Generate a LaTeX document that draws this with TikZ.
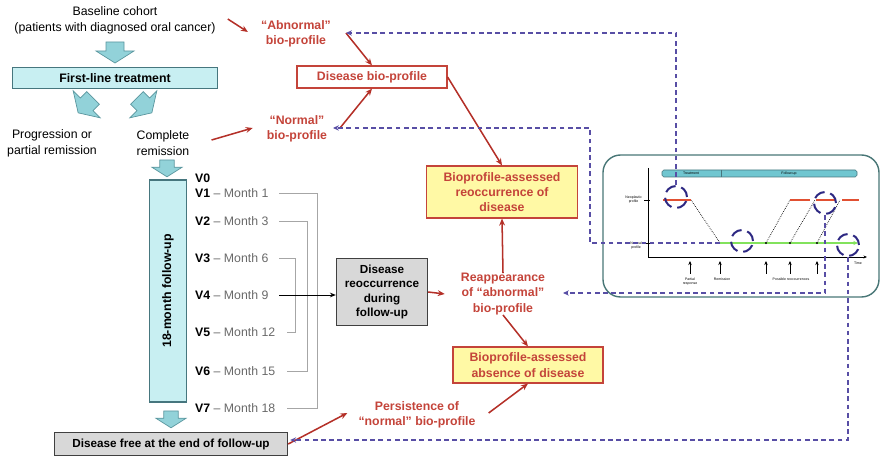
\documentclass[tikz,border=0pt]{standalone}
\usepackage{fontspec}
\setmainfont{Liberation Sans}
\usetikzlibrary{positioning}
\usetikzlibrary{arrows.meta}
\usetikzlibrary{calc}

\definecolor{bioRed}{RGB}{196,68,58}
\definecolor{arrowRed}{RGB}{180,48,40}
\definecolor{linkBlue}{RGB}{88,78,165}
\definecolor{lensBlue}{RGB}{45,40,130}
\definecolor{cyanFill}{RGB}{200,239,242}
\definecolor{cyanEdge}{RGB}{70,118,126}
\definecolor{arrowFill}{RGB}{146,210,217}
\definecolor{arrowEdge}{RGB}{90,150,158}
\definecolor{boxGray}{RGB}{216,216,216}
\definecolor{paleYellow}{RGB}{255,249,165}
\definecolor{visitGray}{RGB}{105,105,105}
\definecolor{insetEdge}{RGB}{72,118,118}
\definecolor{barFill}{RGB}{112,198,208}
\definecolor{levelGreen}{RGB}{130,226,92}
\definecolor{levelRed}{RGB}{225,80,50}

\tikzset{
  txt/.style={align=center, inner sep=0pt, font=\fontsize{10.5}{13.5}\selectfont},
  redtxt/.style={align=center, inner sep=0pt, text=bioRed,
                 font=\fontsize{10.5}{13}\selectfont\bfseries},
  visit/.style={anchor=west, inner sep=0pt, font=\fontsize{10.5}{12}\selectfont},
  cyanbox/.style={draw=cyanEdge, fill=cyanFill, line width=0.9pt, inner sep=0pt,
                  align=center, font=\fontsize{10.5}{12}\selectfont\bfseries},
  graybox/.style={draw=black!75, fill=boxGray, line width=1.2pt, inner sep=0pt,
                  align=center, font=\fontsize{10}{12.4}\selectfont\bfseries},
  yelbox/.style={draw=bioRed, fill=paleYellow, line width=1pt, inner sep=0pt,
                 align=center, text=bioRed, font=\fontsize{10.5}{13}\selectfont\bfseries},
  profbox/.style={draw=bioRed, fill=white, line width=1pt, inner sep=0pt,
                  text=bioRed, font=\fontsize{10.5}{12}\selectfont\bfseries},
  redarr/.style={draw=arrowRed, line width=1.3pt, -{Stealth[length=6pt,width=5pt]}},
  link/.style={draw=linkBlue, line width=1pt, dash pattern=on 4pt off 3pt,
               -{Stealth[length=5pt,width=4.5pt]}},
  bracket/.style={draw=black!35, line width=0.8pt},
  lens/.style={circle, draw=lensBlue, line width=1.7pt, dash pattern=on 10pt off 5pt,
               minimum size=0.66cm, inner sep=0pt},
  tinytxt/.style={inner sep=0pt, align=center, font=\fontsize{3}{3.5}\selectfont},
  fatarrow/.pic={\draw[draw=arrowEdge, fill=arrowFill, line width=0.6pt]
    (-9,0) -- (9,0) -- (9,9) -- (19,9) -- (0,21) -- (-19,9) -- (-9,9) -- cycle;}
}

\begin{document}
\begin{tikzpicture}[x=0.03cm, y=-0.03cm]
  \useasboundingbox (0,0) rectangle (883,459);

  % cohort and treatment
  \node[txt] (base) at (115,20) {Baseline cohort\\(patients with diagnosed oral cancer)};
  \pic at (115,42) {fatarrow};
  \node[cyanbox, minimum width=6.15cm, minimum height=0.63cm] (ftb) at (115,78) {First-line treatment};
  \pic[rotate=-45] at (93,98) {fatarrow};
  \pic[rotate=45] at (137,98) {fatarrow};
  \node[txt] (prog) at (52,143) {Progression or\\partial remission};
  \node[txt] (comp) at (163,143) {Complete\\remission};
  \pic[scale=0.8] at (167,160) {fatarrow};

  % follow-up visits
  \node[cyanbox, rotate=90, minimum width=6.66cm, minimum height=1.11cm] (fu) at (168,291) {18-month follow-up};
  \pic[scale=0.8] at (171,411) {fatarrow};
  \node[graybox, minimum width=6.99cm, minimum height=0.69cm] (free) at (171,444) {Disease free at the end of follow-up};

  \node[visit] (v0) at (195,178) {\textbf{V0}};
  \foreach \n/\y/\m in {1/193/1, 2/221/3, 3/258/6, 4/295/9, 5/332/12, 6/371/15, 7/408/18}
    \node[visit] (v\n) at (195,\y) {\textbf{V\n} {\color{visitGray}– Month \m}};

  \draw[bracket] ($(v1.west)+(84,0)$) -| ($(v7.west)+(122,0)$) -- ($(v7.west)+(92,0)$);
  \draw[bracket] ($(v2.west)+(84,0)$) -| ($(v6.west)+(112,0)$) -- ($(v6.west)+(92,0)$);
  \draw[bracket] ($(v3.west)+(84,0)$) -| ($(v5.west)+(100,0)$) -- ($(v5.west)+(92,0)$);

  \node[graybox, minimum width=2.73cm, minimum height=2.01cm] (reoc) at (382,292) {Disease\\reoccurrence\\during\\follow-up};
  \draw[line width=0.8pt, -{Stealth[length=5pt,width=4pt]}] ($(v4.west)+(84,0)$) -- (reoc.west |- v4.west);

  % bio-profile branch
  \node[redtxt] (abn) at (296,34) {“Abnormal”\\bio-profile};
  \node[redtxt] (nrm) at (297,129) {“Normal”\\bio-profile};
  \node[profbox, minimum width=4.5cm, minimum height=0.66cm] (dbp) at (372,77) {Disease bio-profile};
  \node[yelbox, minimum width=4.53cm, minimum height=1.56cm] (yel1) at (502,192) {Bioprofile-assessed\\reoccurrence of\\disease};
  \node[redtxt] (reap) at (503,294) {Reappearance\\of “abnormal”\\bio-profile};
  \node[yelbox, minimum width=4.5cm, minimum height=1.08cm] (yel2) at (528,365) {Bioprofile-assessed\\absence of disease};
  \node[redtxt] (pers) at (417,415) {Persistence of\\“normal” bio-profile};

  \coordinate (abnPt) at (346,33);
  \coordinate (nrmPt) at (333,128);
  \coordinate (reapPt) at (563,293);

  \draw[redarr] ($(base.east)+(12,-1)$) -- ($(abn.west)+(-13,-2)$);
  \draw[redarr] ($(comp.east)+(22,-3)$) -- ($(nrm.west)+(-14,-1)$);
  \draw[redarr] (abnPt) -- (dbp.north);
  \draw[redarr] ($(nrmPt)+(7,0)$) -- (dbp.south);
  \draw[redarr] (dbp.east) -- (yel1.north);
  \draw[redarr] (reoc.east) -- ($(reap.west)+(-16,0)$);
  \draw[redarr] (reap.north) -- (yel1.south);
  \draw[redarr] (reap.south) -- (yel2.north);
  \draw[redarr] ($(pers.east)+(13,-2)$) -- (yel2.south);
  \draw[redarr] (free.east) -- ($(pers.west)+(-11,-2)$);

  % time course
  \draw[draw=insetEdge, line width=1.2pt, rounded corners=15pt] (603,155) rectangle (879,297);
  \draw[draw=cyanEdge, fill=barFill, line width=0.5pt, rounded corners=1.5pt] (662,170) rectangle (857,177);
  \draw[draw=cyanEdge, line width=0.5pt] (721,170) -- (721,177);
  \node[tinytxt] (treat) at (691,173.5) {Treatment};
  \node[tinytxt] (fup) at (789,173.5) {Follow-up};

  \draw[line width=0.8pt, -{Stealth[length=3pt,width=2.5pt]}] (648,168) |- (867,257);
  \draw[line width=0.8pt] (644,200) -- (650,200) (644,243) -- (650,243);
  \node[tinytxt, anchor=east] (neo) at (642,200) {Neoplastic\\profile};
  \node[tinytxt, anchor=east] (nor) at (642,246) {Normal\\profile};
  \node[tinytxt] (time) at (858,263) {Time};

  \draw[densely dotted, line width=0.6pt] (691,200) -- (720,243);
  \draw[densely dotted, line width=0.6pt] (766,243) -- (790,200);
  \draw[densely dotted, line width=0.6pt] (790,243) -- (815,200);
  \draw[densely dotted, line width=0.6pt] (817,243) -- (840,200);
  \draw[draw=levelRed, line width=1.3pt] (663,200) -- (691,200) (790,200) -- (810,200)
    (816,200) -- (836,200) (842,200) -- (859,200);
  \coordinate (normStart) at (720,243);
  \draw[draw=levelGreen, line width=1.3pt, -{Stealth[length=4pt,width=3.5pt]}] (normStart) -- (858,243);
  \foreach \x in {766,790,817}
    \fill (\x,243) circle[radius=0.9pt];

  \foreach \x in {690,720,766,790,817}
    \draw[line width=0.7pt, -{Stealth[length=3.5pt,width=3pt]}] (\x,274) -- (\x,261);
  \node[tinytxt] (part) at (690,282) {Partial\\response};
  \node[tinytxt] (remi) at (722,279) {Remission};
  \node[tinytxt] (poss) at (791,279) {Possible reoccurrences};

  \node[lens] (c1) at (676,197) {};
  \node[lens] (c2) at (742,241) {};
  \node[lens] (c3) at (825,203) {};
  \node[lens] (c4) at (848,245) {};

  % links back to the profiles
  \coordinate (bendN) at (590,243);
  \draw[link] (c1.north) |- (abnPt);
  \draw[link] (normStart) -- (bendN) |- (nrmPt);
  \draw[link] (c3.south) |- (reapPt);
  \draw[link] (c4.south) |- ($(free.east)+(2,-4)$);
\end{tikzpicture}
\end{document}
